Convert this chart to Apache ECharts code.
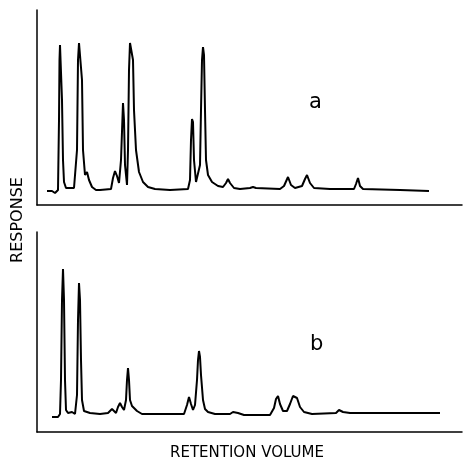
<!DOCTYPE html>
<html>
<head>
<meta charset="utf-8">
<script src="https://cdn.jsdelivr.net/npm/echarts@6/dist/echarts.min.js"></script>
<style>
html, body { margin: 0; padding: 0; background: #fff; }
#main { width: 463px; height: 462px; }
</style>
</head>
<body>
<div id="main"></div>
<script>
// chromatogram a: [retention volume, response]
var traceA = [
    [2, 2.8], [3, 2.8], [3.6, 2.4], [4, 2.2], [4.2, 3], [4.4, 17], [4.5, 29], [4.6, 32], [4.8, 32],
    [5, 21], [5.2, 9], [5.4, 4.6], [5.8, 3.4], [6.6, 3.4], [7, 3.8], [7.4, 3.4], [7.8, 3.4],
    [8, 11], [8.2, 29], [8.4, 32.4], [8.8, 32.4], [9, 25], [9.2, 11], [9.6, 6], [10, 6.6],
    [10.4, 5], [11, 3.6], [11.8, 3], [12.6, 3], [14.8, 3.2], [15.2, 5.4], [15.6, 6.8], [16, 5.8],
    [16.4, 4.4], [16.8, 9], [17.2, 20.4], [17.4, 17], [17.6, 8], [18, 4], [18.2, 11], [18.4, 27],
    [18.6, 32.4], [19, 32.4], [19.2, 29], [19.4, 19], [19.8, 11], [20.4, 6.6], [21.2, 4.6],
    [22.2, 3.6], [23.6, 3.2], [26.6, 3], [30.2, 3.2], [30.6, 5], [30.8, 13], [31, 17.2],
    [31.2, 16.6], [31.4, 9], [31.8, 4.6], [32.2, 4.4], [32.6, 8], [32.8, 19], [33, 29],
    [33.2, 31.6], [33.4, 30], [33.6, 19], [33.8, 9], [34.2, 6], [35, 4.6], [36.2, 3.8],
    [37.2, 3.6], [37.8, 4.4], [38.2, 5.2], [38.6, 4.4], [39.4, 3.4], [40.6, 3.2], [42.6, 3.4],
    [43.2, 3.6], [43.8, 3.4], [48.6, 3.2], [49.4, 3.8], [50.2, 5.6], [50.8, 4], [51.6, 3.4],
    [53, 3.8], [53.6, 5.2], [54, 6], [54.6, 4.4], [55.4, 3.4], [58.6, 3.2], [63.4, 3.2],
    [63.8, 4.2], [64.2, 5.4], [64.6, 3.8], [65.2, 3.2], [72.6, 3], [78.4, 2.8]
];

// chromatogram b
var traceB = [
    [3, 3], [4.2, 3], [4.6, 3.6], [4.8, 10.4], [5, 26.4], [5.2, 32.6], [5.4, 26.4], [5.6, 10.4],
    [5.8, 4.4], [6.2, 3.8], [7, 4], [7.6, 3.6], [8, 7.4], [8.2, 22.4], [8.4, 29.8], [8.6, 26.4],
    [8.8, 14.4], [9, 6.4], [9.4, 4.2], [10.6, 3.8], [12.6, 3.6], [14.2, 3.8], [14.6, 4.2],
    [15, 4.6], [15.4, 4.2], [15.8, 3.8], [16.2, 5], [16.6, 5.8], [17, 5], [17.4, 4.4], [17.8, 6.4],
    [18, 10.4], [18.2, 12.8], [18.4, 10.4], [18.6, 6.4], [19, 5.2], [19.4, 5], [20, 4.2],
    [21, 3.6], [24.6, 3.6], [29.4, 3.6], [30, 5.4], [30.4, 7], [30.8, 5.6], [31.2, 4.4],
    [31.6, 5.4], [32, 10.4], [32.2, 14.4], [32.4, 16.2], [32.6, 15], [32.8, 11.4], [33.2, 6.4],
    [33.6, 4.6], [34.2, 4], [35.6, 3.6], [38.6, 3.6], [39.2, 4], [39.6, 4.2], [40.2, 3.8],
    [41.4, 3.4], [46.6, 3.4], [47.4, 4.8], [47.8, 6.6], [48.2, 7.2], [48.6, 5.6], [49.2, 4.2],
    [50, 4.2], [50.6, 5.6], [51.2, 7.2], [51.6, 7.6], [52, 6.8], [52.6, 5], [53.4, 4], [55, 3.6],
    [59.8, 3.8], [60.4, 4.4], [60.8, 4.6], [61.2, 4], [62.6, 3.8], [72.6, 3.8], [80.6, 3.8]
];

var panelLabels = ['a', 'b'];
var xTitle = 'RETENTION VOLUME';
var yTitle = 'RESPONSE';

var myChart = echarts.init(document.getElementById('main'));

function blankX(idx) {
    return {
        type: 'value', gridIndex: idx, min: 0, max: 85,
        axisLine: { show: true, onZero: false, lineStyle: { color: '#000', width: 1.5 } },
        axisTick: { show: false }, axisLabel: { show: false }, splitLine: { show: false }
    };
}
function blankY(idx, max) {
    return {
        type: 'value', gridIndex: idx, min: 0, max: max,
        axisLine: { show: true, lineStyle: { color: '#000', width: 1.5 } },
        axisTick: { show: false }, axisLabel: { show: false }, splitLine: { show: false }
    };
}

var font = 'DejaVu Sans';

option = {
    backgroundColor: '#fff',
    animation: false,
    grid: [
        { left: 37, right: 1, top: 10, height: 195 },
        { left: 37, right: 1, top: 232, height: 200 }
    ],
    xAxis: [blankX(0), blankX(1)],
    yAxis: [blankY(0, 39), blankY(1, 40)],
    series: [{
        type: 'line', xAxisIndex: 0, yAxisIndex: 0, data: traceA,
        showSymbol: false, lineStyle: { color: '#000', width: 2 }
    }, {
        type: 'line', xAxisIndex: 1, yAxisIndex: 1, data: traceB,
        showSymbol: false, lineStyle: { color: '#000', width: 2 }
    }],
    graphic: [
        { type: 'text', x: 309, y: 92, style: { text: panelLabels[0], font: '21px ' + font, fill: '#000' } },
        { type: 'text', x: 310, y: 334, style: { text: panelLabels[1], font: '21px ' + font, fill: '#000' } },
        { type: 'text', x: 247, y: 446,
          style: { text: xTitle, font: '15px ' + font, fill: '#000', align: 'center' } },
        { type: 'text', x: 18, y: 220, rotation: Math.PI / 2,
          style: { text: yTitle, font: '16px ' + font, fill: '#000', align: 'center', verticalAlign: 'middle' } }
    ]
};

myChart.setOption(option);
</script>
</body>
</html>
